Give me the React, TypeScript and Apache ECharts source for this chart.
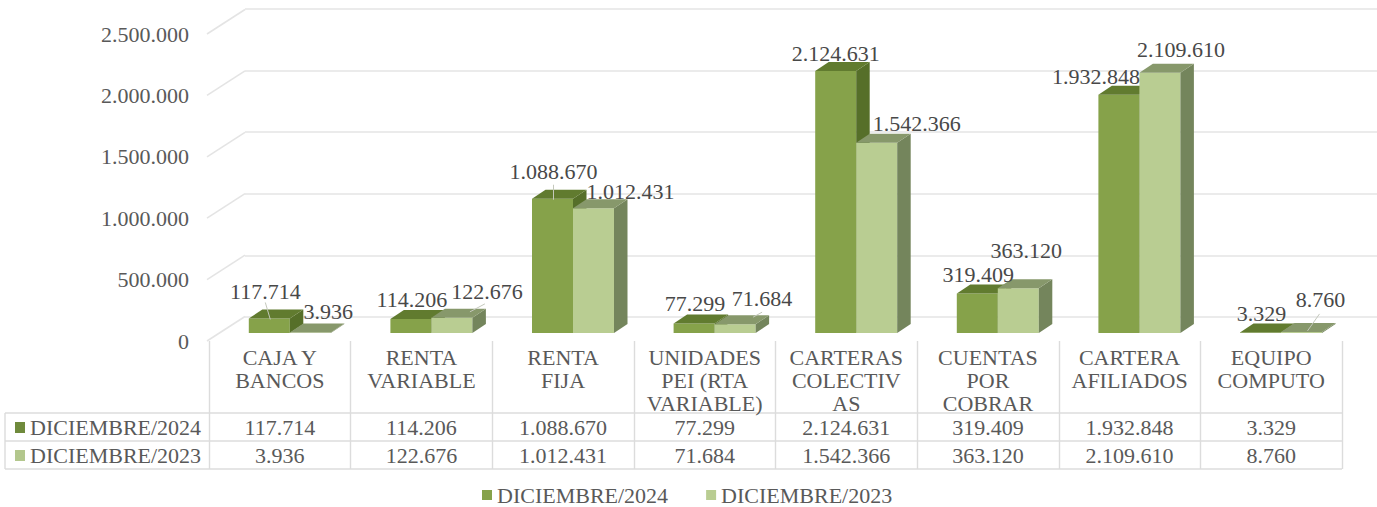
import React, { useEffect, useRef } from "react";
import * as echarts from "echarts";

const categories = [
  "CAJA Y\nBANCOS",
  "RENTA\nVARIABLE",
  "RENTA\nFIJA",
  "UNIDADES\nPEI (RTA\nVARIABLE)",
  "CARTERAS\nCOLECTIV\nAS",
  "CUENTAS\nPOR\nCOBRAR",
  "CARTERA\nAFILIADOS",
  "EQUIPO\nCOMPUTO",
];
const seriesNames = ["DICIEMBRE/2024", "DICIEMBRE/2023"];
const values2024 = [117714, 114206, 1088670, 77299, 2124631, 319409, 1932848, 3329];
const values2023 = [3936, 122676, 1012431, 71684, 1542366, 363120, 2109610, 8760];

// Manually placed label offsets, relative to the top centre of each bar (Excel-like)
const labelOffsets2024 = [[-4, -27], [1, -19], [1, -27], [1, -20], [0, -17], [1, -19], [-23, -18], [1, -19]];
const labelOffsets2023 = [[18, -21], [35, -26], [37, -17], [27, -26], [40, -19], [8, -38], [21, -23], [19, -32]];
// Leader lines: [series, category, x1, y1, x2, y2] relative to bar top centre
const leaders = [
  [0, 0, -4, -16, 1, 1],
  [0, 2, 1, -14, 1, 1],
  [1, 1, 33, -14, 18, -6],
  [1, 3, 27, -12, 18, -7],
  [1, 7, 18, -18, 6, -1],
];

const FONT = '"Liberation Serif", "Times New Roman", serif';
const AXIS_TEXT = "#595959";
const LABEL_TEXT = "#484848";
const GRID_COLOR = "#e4e4e4";
const TABLE_COLOR = "#dcdcdc";
const BAR_W = 41;
const DX = 13.5;
const DY = 9;
const colors = [
  { front: "#86a24a", top: "#617b2f", side: "#566f29" },
  { front: "#b9cd92", top: "#87986b", side: "#74855c" },
];
const fmt = (v: number) => String(v).replace(/\B(?=(\d{3})+(?!\d))/g, ".");

const poly = (points: number[][], fill: string) => ({
  type: "polygon",
  shape: { points },
  style: { fill },
});

const barRenderer = (s: number) => (_p: any, api: any) => {
  const i = api.value(0);
  const v = api.value(1);
  const [cx, yTop] = api.coord([i, v]);
  const [, y0] = api.coord([i, 0]);
  const x0 = s === 0 ? cx - BAR_W : cx;
  const x1 = x0 + BAR_W;
  const c = colors[s];
  return {
    type: "group",
    children: [
      poly([[x0, yTop], [x1, yTop], [x1, y0], [x0, y0]], c.front),
      poly([[x1, yTop], [x1 + DX, yTop - DY], [x1 + DX, y0 - DY], [x1, y0]], c.side),
      poly([[x0, yTop], [x0 + DX, yTop - DY], [x1 + DX, yTop - DY], [x1, yTop]], c.top),
    ],
  };
};

const labelRenderer = (s: number) => (_p: any, api: any) => {
  const i = api.value(0);
  const v = api.value(1);
  const [cx, yTop] = api.coord([i, v]);
  const bx = s === 0 ? cx - BAR_W / 2 : cx + BAR_W / 2;
  const off = (s === 0 ? labelOffsets2024 : labelOffsets2023)[i];
  const lines = leaders
    .filter((l) => l[0] === s && l[1] === i)
    .map((l) => ({
      type: "line",
      shape: { x1: bx + l[2], y1: yTop + l[3], x2: bx + l[4], y2: yTop + l[5] },
      style: { stroke: "#c4c8bc", lineWidth: 1 },
    }));
  return {
    type: "group",
    children: [
      ...lines,
      {
        type: "text",
        x: bx + off[0],
        y: yTop + off[1],
        style: {
          text: fmt(v),
          font: `22px ${FONT}`,
          fill: LABEL_TEXT,
          align: "center",
          verticalAlign: "middle",
        },
      },
    ],
  };
};

const wallRenderer = (_p: any, api: any) => {
  const [x, y] = api.coord([0, api.value(0)]);
  const left = x - api.size([1, 0])[0] / 2;
  return {
    type: "line",
    shape: { x1: left - 2, y1: y, x2: left + 36, y2: y - 24.5 },
    style: { stroke: GRID_COLOR, lineWidth: 1.6 },
  };
};

const tableRenderer = (_p: any, api: any) => {
  const i = api.value(0);
  const [cx] = api.coord([i, 0]);
  const row = (text: string, y: number) => ({
    type: "text",
    x: cx,
    y,
    style: { text, font: `22px ${FONT}`, fill: AXIS_TEXT, align: "center", verticalAlign: "middle" },
  });
  return {
    type: "group",
    children: [row(fmt(values2024[i]), 427), row(fmt(values2023[i]), 455)],
  };
};

const idx = categories.map((_, i) => i);
const tickValues = [0, 500000, 1000000, 1500000, 2000000, 2500000];

export default function App() {
  const ref = useRef<HTMLDivElement>(null);
  useEffect(() => {
    const chart = echarts.init(ref.current!, undefined, { renderer: "svg" });
    const hLine = (y: number) => ({
      type: "line",
      shape: { x1: 5, y1: y, x2: 1342, y2: y },
      style: { stroke: TABLE_COLOR, lineWidth: 1.4 },
    });
    const rowHead = (s: number, y: number) => [
      { type: "rect", shape: { x: 15, y: y - 5, width: 10, height: 11 }, style: { fill: s === 0 ? "#6f8a3c" : "#b3c78d" } },
      {
        type: "text",
        x: 30,
        y,
        style: { text: seriesNames[s], font: `22px ${FONT}`, fill: AXIS_TEXT, align: "left", verticalAlign: "middle" },
      },
    ];
    chart.setOption({
      animation: false,
      backgroundColor: "#ffffff",
      grid: [
        { left: 245, top: 9, width: 1132, height: 308 }, // back wall
        { left: 209, top: 34, width: 1133, height: 307 }, // front plane: axis labels, table
        { left: 219, top: 24.7, width: 1132.8, height: 308.3 }, // bars plane
      ],
      xAxis: [
        { gridIndex: 0, type: "category", data: categories, show: false },
        {
          gridIndex: 1,
          type: "category",
          data: categories,
          axisLine: { show: false },
          axisTick: { show: true, length: 128, lineStyle: { color: TABLE_COLOR, width: 1.4 } },
          axisLabel: {
            interval: 0,
            margin: 5,
            fontFamily: FONT,
            fontSize: 22,
            color: AXIS_TEXT,
            lineHeight: 23,
            align: "center",
            verticalAlign: "top",
          },
        },
        { gridIndex: 2, type: "category", data: categories, show: false },
      ],
      yAxis: [
        {
          gridIndex: 0,
          type: "value",
          min: 0,
          max: 2500000,
          interval: 500000,
          axisLine: { show: false },
          axisTick: { show: false },
          axisLabel: { show: false },
          splitLine: { show: true, lineStyle: { color: GRID_COLOR, width: 1.6 } },
        },
        {
          gridIndex: 1,
          type: "value",
          min: 0,
          max: 2500000,
          interval: 500000,
          axisLine: { show: false },
          axisTick: { show: false },
          splitLine: { show: false },
          axisLabel: {
            margin: 20,
            fontFamily: FONT,
            fontSize: 22,
            color: AXIS_TEXT,
            formatter: (v: number) => fmt(v),
          },
        },
        { gridIndex: 2, type: "value", min: 0, max: 2500000, interval: 500000, show: false },
      ],
      legend: {
        data: seriesNames,
        left: 477,
        top: 479,
        itemWidth: 10,
        itemHeight: 10,
        itemGap: 38,
        icon: "rect",
        textStyle: { fontFamily: FONT, fontSize: 22, color: AXIS_TEXT },
      },
      graphic: [
        {
          type: "group",
          silent: true,
          children: [
            hLine(413),
            hLine(441),
            hLine(469),
            { type: "line", shape: { x1: 5, y1: 413, x2: 5, y2: 469 }, style: { stroke: TABLE_COLOR, lineWidth: 1.4 } },
            ...rowHead(0, 427),
            ...rowHead(1, 455),
          ],
        },
      ],
      series: [
        {
          type: "custom",
          name: "wall",
          xAxisIndex: 1,
          yAxisIndex: 1,
          renderItem: wallRenderer,
          data: tickValues.map((v) => [v]),
          encode: { y: 0 },
          clip: false,
          silent: true,
          z: 1,
        },
        {
          type: "custom",
          name: seriesNames[0],
          xAxisIndex: 2,
          yAxisIndex: 2,
          renderItem: barRenderer(0),
          data: idx.map((i) => [i, values2024[i]]),
          itemStyle: { color: colors[0].front },
          clip: false,
          z: 3,
        },
        {
          type: "custom",
          name: seriesNames[1],
          xAxisIndex: 2,
          yAxisIndex: 2,
          renderItem: barRenderer(1),
          data: idx.map((i) => [i, values2023[i]]),
          itemStyle: { color: colors[1].front },
          clip: false,
          z: 4,
        },
        {
          type: "custom",
          name: "labels2024",
          xAxisIndex: 2,
          yAxisIndex: 2,
          renderItem: labelRenderer(0),
          data: idx.map((i) => [i, values2024[i]]),
          clip: false,
          z: 5,
        },
        {
          type: "custom",
          name: "labels2023",
          xAxisIndex: 2,
          yAxisIndex: 2,
          renderItem: labelRenderer(1),
          data: idx.map((i) => [i, values2023[i]]),
          clip: false,
          z: 5,
        },
        {
          type: "custom",
          name: "table",
          xAxisIndex: 1,
          yAxisIndex: 1,
          renderItem: tableRenderer,
          data: idx.map((i) => [i, 0]),
          clip: false,
          z: 2,
        },
      ],
    });
    return () => chart.dispose();
  }, []);
  return <div ref={ref} style={{ position: "absolute", left: 0, top: 0, width: 1377, height: 507 }} />;
}
